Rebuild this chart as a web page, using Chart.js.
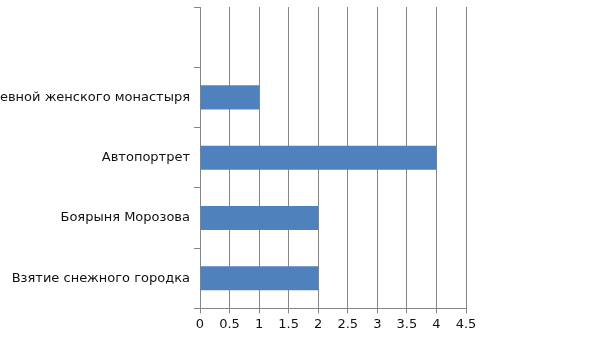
<!DOCTYPE html>
<html>
<head>
<meta charset="utf-8">
<script src="https://cdn.jsdelivr.net/npm/chart.js@4"></script>
<style>
  body { margin: 0; background: #fff; }
  #bar-chart { display: block; }
</style>
</head>
<body>
<canvas id="bar-chart" width="605" height="340"></canvas>
<script>
// categories listed top to bottom (top slot is empty in the original)
const paintings = ['', 'Посещение царевной женского монастыря', 'Автопортрет', 'Боярыня Морозова', 'Взятие снежного городка'];
const counts = [null, 1, 4, 2, 2];
const xTicks = [0, 0.5, 1, 1.5, 2, 2.5, 3, 3.5, 4, 4.5];

Chart.defaults.font.family = 'DejaVu Sans';
Chart.defaults.font.size = 13;
Chart.defaults.color = '#111';

const canvas = document.querySelector('#bar-chart');
const bar_chart = new Chart(canvas, {
type: 'bar',
data: {
    labels: paintings,
    datasets: [
        {
            data: counts,
            backgroundColor: '#4f81bd',
            borderWidth: 0,
            barPercentage: 0.4,
            categoryPercentage: 1,
        }
    ]
},
options: {
    indexAxis: 'y',
    responsive: false,
    animation: false,
    layout: {
        padding: { top: 7, right: 139, bottom: 5, left: 0 }
    },
    plugins: {
        legend: { display: false },
        tooltip: { enabled: false }
    },
    scales: {
        x: {
            min: 0,
            max: 4.5,
            afterBuildTicks: (scale) => {
                scale.ticks = xTicks.map(v => ({ value: v }));
            },
            grid: {
                color: '#868686',
                tickLength: 5,
            },
            border: { color: '#868686' },
            ticks: {
                padding: 3,
                maxRotation: 0,
                callback: (v) => String(v),
            }
        },
        y: {
            afterFit: (scale) => {
                scale.width = 200;
                scale.paddingTop = 0;
                scale.paddingBottom = 0;
            },
            grid: {
                drawOnChartArea: false,
                color: '#868686',
                tickLength: 6,
            },
            border: { color: '#868686' },
            ticks: {
                padding: 4,
                autoSkip: false,
            }
        }
    }
}
});
</script>
</body>
</html>
